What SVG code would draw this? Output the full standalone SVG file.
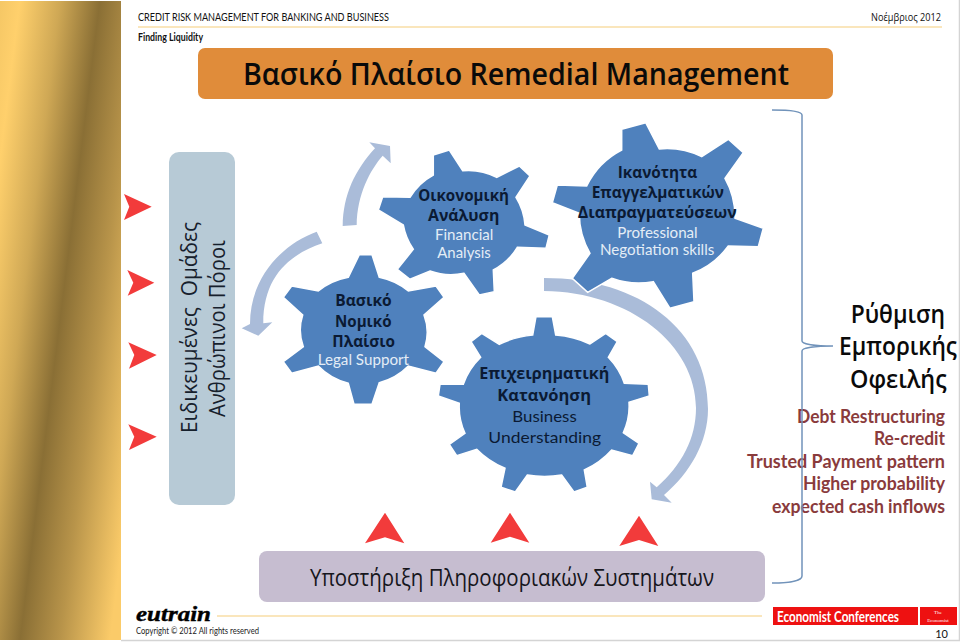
<svg xmlns="http://www.w3.org/2000/svg" width="960" height="642" viewBox="0 0 960 642">
<style>
text{font-family:"Open Sans","Noto Sans",sans-serif;}
.lat{font-family:Lato,"Open Sans",sans-serif;}
.g{fill:#4F81BD;stroke:#fff;stroke-width:1.5;}
.a{fill:#AABCD9;}
.r{fill:#F23B3B;}
.b{font-size:16.5px;font-weight:700;fill:#0B1A33;}
.l{font-size:16px;fill:#E4EDF6;font-family:Lato,"Open Sans",sans-serif;}
.d{font-size:16px;fill:#0B1A33;font-family:Lato,"Open Sans",sans-serif;}
.m{font-size:18px;font-weight:700;fill:#8A3B3C;font-family:Lato,"Open Sans",sans-serif;}
.h{font-size:25px;font-weight:600;fill:#0a0a0a;}
.v{font-size:21px;fill:#16202c;}
.s{font-family:"Liberation Serif",serif;}
</style>
<defs>
<linearGradient id="gold" gradientUnits="userSpaceOnUse" x1="0" y1="0" x2="197" y2="24.6">
<stop offset="0" stop-color="#F5C765"/><stop offset=".1" stop-color="#FFD06C"/><stop offset=".3" stop-color="#CFA855"/><stop offset=".5" stop-color="#8A6F35"/><stop offset=".7" stop-color="#B8944A"/><stop offset=".95" stop-color="#FBCB69"/>
</linearGradient>
</defs>
<rect width="960" height="642" fill="#fff"/>
<rect x="0" y="1" width="121" height="639" fill="url(#gold)"/>
<path d="M121 640.5H959.5V0" fill="none" stroke="#D4D4D4" stroke-width="1.5"/>

<g id="header">
<text class="lat" x="138" y="21" font-size="11" fill="#111" textLength="251" lengthAdjust="spacingAndGlyphs">CREDIT RISK MANAGEMENT FOR BANKING AND BUSINESS</text>
<text x="871" y="21" font-size="11" fill="#111" textLength="70" lengthAdjust="spacingAndGlyphs">Νοέμβριος 2012</text>
<line x1="138" y1="27" x2="942" y2="27" stroke="#F5CE7B" stroke-width="1.2"/>
<text class="lat" x="138" y="41" font-size="10.5" font-weight="700" fill="#111" textLength="65" lengthAdjust="spacingAndGlyphs">Finding Liquidity</text>
</g>

<g id="title">
<rect x="198" y="48" width="635" height="51" rx="7" fill="#E08C3A"/>
<text x="243" y="85" font-size="30" font-weight="600" fill="#0a0a0a" textLength="546" lengthAdjust="spacingAndGlyphs">Βασικό Πλαίσιο Remedial Management</text>
</g>

<g id="left-panel">
<rect x="169" y="152" width="66" height="353" rx="10" fill="#B7CAD6"/>
<text class="v" transform="translate(196.7 433) rotate(-90)" xml:space="preserve" textLength="211" lengthAdjust="spacingAndGlyphs">Ειδικευμένες  Ομάδες</text>
<text class="v" transform="translate(225 417) rotate(-90)" textLength="177" lengthAdjust="spacingAndGlyphs">Ανθρώπινοι Πόροι</text>
</g>

<g id="connectors">
<path class="a" d="M342.7,226 C343,195 355,170 375,148.3 L369.3,142.3 L390,146 L390.7,163.3 L382.7,155.7 C370,170 357,195 356.7,225 Z"/>
<path class="a" d="M316.7,231.7 C285,243 250,275 250,324 L241.7,328.3 L258.3,335.7 L272.3,322.3 L263.3,323.3 C263.3,275 291,254 322.3,243.3 Z"/>
<path class="a" d="M544,278 C640,278 708,330 708,409 C708,442 690,473 664,495 L671.7,502.7 L651.7,499.3 L650,481.7 L656.7,487.3 C682,465 696,438 696,408 C696,345 630,292 544,291 Z"/>
</g>

<g id="markers">
<path class="r" d="M124,194 L151.7,206.7 L124,220 L129.3,206.7Z"/>
<path class="r" d="M127.3,270 L154.3,282.7 L127.7,295.7 L133.3,282.7Z"/>
<path class="r" d="M128.3,342.3 L156.7,355 L129,368.7 L134.3,355Z"/>
<path class="r" d="M128.3,424.3 L156.7,436.7 L129,450 L134.3,436.7Z"/>
<path class="r" d="M385,512.7 L365,543.3 L385,537.3 L404.3,543.3Z"/>
<path class="r" d="M510,512.7 L490.7,542.7 L510,536.7 L529.3,542.7Z"/>
<path class="r" d="M639,515.7 L619.3,546 L639,540 L658.3,546Z"/>
</g>

<g id="legal">
<path class="g" d="M359.3,254.7 L372,254.7 L379.3,277.3 A63,55 0 0 1 408.3,291 L436,286 L444,297.3 L424,315 A63,55 0 0 1 425,346.7 L444,361.7 L436,373.3 L408.3,366 A63,55 0 0 1 379.3,382.7 L372,404.3 L354,404.3 L348.3,383.3 A63,55 0 0 1 318.3,366 L291.7,373.3 L283.3,361.7 L303.3,346.7 A63,55 0 0 1 302.7,315 L283.3,297.3 L291.7,286 L318.3,291 A63,55 0 0 1 348.3,277.3 Z"/>
<text class="b" x="335.3" y="305.7" textLength="56.4" lengthAdjust="spacingAndGlyphs">Βασικό</text>
<text class="b" x="335" y="326.7" textLength="56.5" lengthAdjust="spacingAndGlyphs">Νομικό</text>
<text class="b" x="332.3" y="346.7" textLength="62.7" lengthAdjust="spacingAndGlyphs">Πλαίσιο</text>
<text class="l" x="317.7" y="365" textLength="91.3" lengthAdjust="spacingAndGlyphs">Legal Support</text>
</g>

<g id="financial">
<path class="g" d="M433.3,155 L449.3,150 L462.7,170.7 A61,61 0 0 1 496.7,177.3 L519.3,166 L530,176 L516,197.3 A61,61 0 0 1 525,225 L549.3,235 L546,248.3 L517.3,247.3 A61,61 0 0 1 493.3,270 L494.3,291.7 L479.3,295 L464,273.3 A61,61 0 0 1 430,271 L410,279.3 L397.3,269.3 L413.3,249.3 A61,61 0 0 1 403.3,225 L378.3,210 L382.7,196.7 L410,197.3 A61,61 0 0 1 433.3,175 Z"/>
<text class="b" x="418.3" y="200.7" textLength="90.7" lengthAdjust="spacingAndGlyphs">Οικονομική</text>
<text class="b" x="428" y="221" textLength="71.3" lengthAdjust="spacingAndGlyphs">Ανάλυση</text>
<text class="l" x="435" y="240" textLength="58.3" lengthAdjust="spacingAndGlyphs">Financial</text>
<text class="l" x="437.3" y="257.7" textLength="53.4" lengthAdjust="spacingAndGlyphs">Analysis</text>
</g>

<g id="negotiation">
<path class="g" d="M621.7,129.3 L645.7,122.7 L659.3,149 A79,79 0 0 1 701.7,156.7 L728.3,139.3 L743.3,152.7 L725,178.3 A79,79 0 0 1 735,218.3 L763.3,228.3 L758.3,246.7 L728.3,246 A79,79 0 0 1 692.7,273.3 L694,301.7 L670,308.3 L653.3,281.7 A79,79 0 0 1 611.7,278.3 L587.7,292.3 L572.3,278.3 L590,253.3 A79,79 0 0 1 579.3,213.3 L552.3,202.7 L557.3,185 L586.7,186 A79,79 0 0 1 621.7,150 Z"/>
<text class="b" x="617.7" y="178.3" textLength="79.6" lengthAdjust="spacingAndGlyphs">Ικανότητα</text>
<text class="b" x="591.7" y="197.7" textLength="132.3" lengthAdjust="spacingAndGlyphs">Επαγγελματικών</text>
<text class="b" x="577.7" y="218.3" textLength="159" lengthAdjust="spacingAndGlyphs">Διαπραγματεύσεων</text>
<text class="l" x="617.3" y="237.7" textLength="80.4" lengthAdjust="spacingAndGlyphs">Professional</text>
<text class="l" x="600" y="255" textLength="114.3" lengthAdjust="spacingAndGlyphs">Negotiation skills</text>
</g>

<g id="business">
<path class="g" d="M536,316.7 L552.3,316.7 L555.7,335 A85,72 0 0 1 590,344 L605.7,333.3 L617.3,341.7 L608.3,357.3 A85,72 0 0 1 624.3,383.3 L648.3,384.3 L649.3,396 L629,402.3 A85,72 0 0 1 623.3,432.7 L639,443.3 L632.7,455.7 L611.7,450 A85,72 0 0 1 584.3,470 L587.3,487.3 L574,492 L561.7,475 A85,72 0 0 1 527.3,475 L515.3,492 L501,487.3 L505,468.3 A85,72 0 0 1 476.7,449.3 L456.7,455.7 L449.3,444.3 L465,433.3 A85,72 0 0 1 459.3,403.3 L438.3,396 L440,384.3 L463.3,384.3 A85,72 0 0 1 480.7,357.3 L471,341.7 L481.7,333.3 L499.3,344.3 A85,72 0 0 1 532.7,335 Z"/>
<text class="b" x="479.3" y="379.3" textLength="130" lengthAdjust="spacingAndGlyphs">Επιχειρηματική</text>
<text class="b" x="497.3" y="400.7" textLength="93.7" lengthAdjust="spacingAndGlyphs">Κατανόηση</text>
<text class="d" x="512.3" y="421.7" textLength="64.4" lengthAdjust="spacingAndGlyphs">Business</text>
<text class="d" x="488.3" y="442.7" textLength="112.7" lengthAdjust="spacingAndGlyphs">Understanding</text>
</g>

<g id="outcome">
<text class="h" x="850.7" y="323" textLength="94.3" lengthAdjust="spacingAndGlyphs">Ρύθμιση</text>
<text class="h" x="839" y="355" textLength="118" lengthAdjust="spacingAndGlyphs">Εμπορικής</text>
<text class="h" x="850" y="388" textLength="96.7" lengthAdjust="spacingAndGlyphs">Οφειλής</text>
<text class="m" x="797" y="422.7" textLength="148" lengthAdjust="spacingAndGlyphs">Debt Restructuring</text>
<text class="m" x="874" y="445" textLength="71" lengthAdjust="spacingAndGlyphs">Re-credit</text>
<text class="m" x="747" y="468" textLength="198" lengthAdjust="spacingAndGlyphs">Trusted Payment pattern</text>
<text class="m" x="803" y="490" textLength="142" lengthAdjust="spacingAndGlyphs">Higher probability</text>
<text class="m" x="772" y="513" textLength="173" lengthAdjust="spacingAndGlyphs">expected cash inflows</text>
</g>

<g id="brace">
<path d="M772,110 C788,110 802,111 802,115 V341 C802,344 815,346 833,346 C815,346 802,348 802,351 V576 C802,581 788,583 772,583" fill="none" stroke="#7193BA" stroke-width="1.5"/>
</g>

<g id="support">
<rect x="259" y="551" width="506" height="51" rx="8" fill="#C6BDD0"/>
<text x="310" y="586" font-size="23" fill="#16161c" textLength="404" lengthAdjust="spacingAndGlyphs">Υποστήριξη Πληροφοριακών Συστημάτων</text>
</g>

<g id="footer">
<text class="s" x="136" y="621" font-size="21" font-weight="700" font-style="italic" fill="#000" stroke="#000" stroke-width=".4" textLength="75" lengthAdjust="spacingAndGlyphs">eutrain</text>
<line x1="217" y1="616" x2="762" y2="616" stroke="#F5CE7B" stroke-width="1.2"/>
<text class="lat" x="136" y="634" font-size="9.5" fill="#222" textLength="123" lengthAdjust="spacingAndGlyphs">Copyright © 2012 All rights reserved</text>
<rect x="773" y="607" width="145" height="18" fill="#EE1111"/>
<rect x="920" y="607" width="37" height="18" fill="#EE1111"/>
<text class="lat" x="777" y="622" font-size="15" font-weight="700" fill="#fff" textLength="122" lengthAdjust="spacingAndGlyphs">Economist Conferences</text>
<text class="s" x="938" y="614" font-size="5" text-anchor="middle" fill="#fff">The</text>
<text class="s" x="938" y="621.5" font-size="5" text-anchor="middle" fill="#fff">Economist</text>
<text class="lat" x="948" y="638" font-size="11" text-anchor="end" fill="#111">10</text>
</g>
</svg>
